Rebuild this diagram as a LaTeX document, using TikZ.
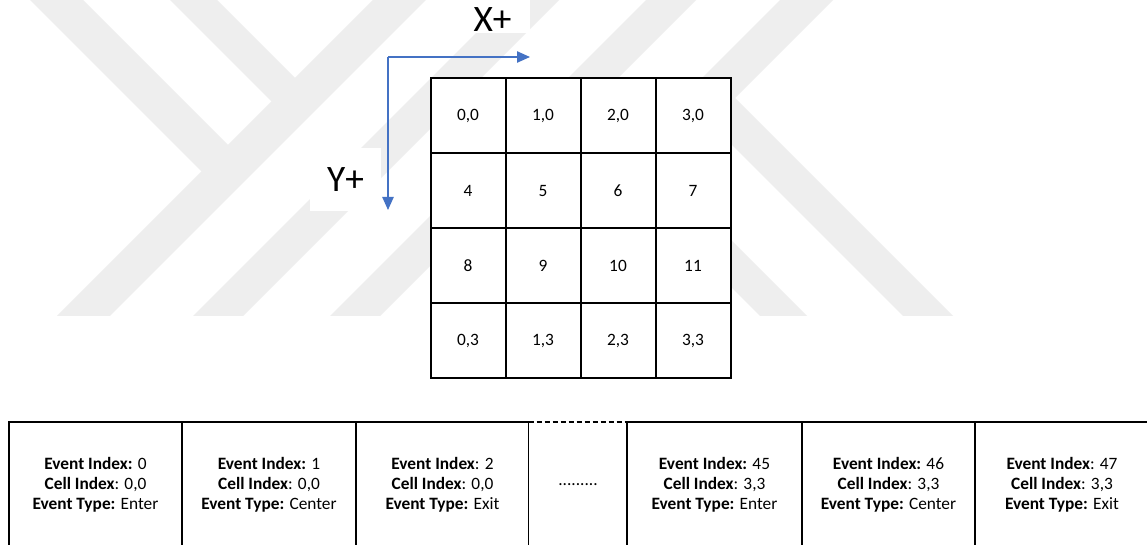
\documentclass[tikz,border=0pt]{standalone}
\usepackage{fontspec}
\setmainfont{Carlito}
\usetikzlibrary{arrows.meta}
\definecolor{axisblue}{HTML}{4472C4}
\definecolor{wmgray}{HTML}{EEEEEE}
\begin{document}
\begin{tikzpicture}[x=0.75pt,y=-0.75pt,
  wm/.style={fill=wmgray,draw=none},
  axis/.style={draw=axisblue,line width=1pt,-{Triangle[length=9.75pt,width=8.5pt]}},
  axislabel/.style={font=\fontsize{28}{32}\selectfont,inner sep=0pt},
  cell/.style={draw,line width=1.5pt,fill=white,minimum size=56.25pt,inner sep=0pt,
    font=\fontsize{13}{16}\selectfont},
  evt/.style={draw,line width=1.5pt,fill=white,minimum height=94.5pt,inner sep=0pt,
    align=center,font=\fontsize{13}{15}\selectfont},
  gap/.style={fill=white,minimum height=94.5pt,inner sep=0pt,
    font=\fontsize{13}{15}\selectfont}]
\useasboundingbox (0,0) rectangle (1147,545);
\clip (0,0) rectangle (1147,545);
\fill[white] (0,0) rectangle (1147,545);

% faint background emblem
\fill[wm] (373,0) -- (426,0) -- (110,316) -- (57,316) -- cycle;
\fill[wm] (30,0) -- (83,0) -- (241.5,158.5) -- (215,185) -- cycle;
\fill[wm] (170,0) -- (217,0) -- (308.5,91.5) -- (285,115) -- cycle;
\fill[wm] (509,0) -- (559,0) -- (243,316) -- (193,316) -- cycle;
\fill[wm] (646,0) -- (696,0) -- (380,316) -- (330,316) -- cycle;
\fill[wm] (557,113) -- (580.5,89.5) -- (807,316) -- (760,316) -- cycle;
\fill[wm] (780,0) -- (833,0) -- (735,98) -- (953,316) -- (903,316) -- (683.5,96.5) -- cycle;

% axis labels
\fill[white] (455,-5) rectangle (530,33);
\node[axislabel] (xlab) at (492.5,20) {X+};
\node[axislabel,fill=white,minimum width=53.25pt,minimum height=47.25pt] (ylab) at (345.5,179.5) {Y+};

% axes
\coordinate (origin) at (388,57);
\coordinate (xend) at (530,57);
\coordinate (yend) at (388,210);
\draw[axis] (origin) -- (xend);
\draw[axis] (origin) -- (yend);

% 4x4 cell grid
\node[cell] (c00) at (468,116) {0,0};
\node[cell] (c10) at (543,116) {1,0};
\node[cell] (c20) at (618,116) {2,0};
\node[cell] (c30) at (693,116) {3,0};
\node[cell] (c01) at (468,191) {4};
\node[cell] (c11) at (543,191) {5};
\node[cell] (c21) at (618,191) {6};
\node[cell] (c31) at (693,191) {7};
\node[cell] (c02) at (468,266) {8};
\node[cell] (c12) at (543,266) {9};
\node[cell] (c22) at (618,266) {10};
\node[cell] (c32) at (693,266) {11};
\node[cell] (c03) at (468,341) {0,3};
\node[cell] (c13) at (543,341) {1,3};
\node[cell] (c23) at (618,341) {2,3};
\node[cell] (c33) at (693,341) {3,3};

% event sequence
\node[evt,minimum width=129.75pt] (e0) at (95.5,485)
  {\textbf{Event Index:} 0\\\textbf{Cell Index}: 0,0\\\textbf{Event Type:} Enter};
\node[evt,minimum width=130.5pt] (e1) at (269,485)
  {\textbf{Event Index:} 1\\\textbf{Cell Index}: 0,0\\\textbf{Event Type:} Center};
\node[evt,minimum width=129.75pt] (e2) at (442.5,485)
  {\textbf{Event Index}: 2\\\textbf{Cell Index}: 0,0\\\textbf{Event Type:} Exit};
\node[gap,minimum width=73.5pt] (skip) at (578,485) {.........};
\node[evt,minimum width=131.25pt] (e45) at (714.5,485)
  {\textbf{Event Index:} 45\\\textbf{Cell Index}: 3,3\\\textbf{Event Type:} Enter};
\node[evt,minimum width=129.75pt] (e46) at (888.5,485)
  {\textbf{Event Index:} 46\\\textbf{Cell Index}: 3,3\\\textbf{Event Type:} Center};
\node[evt,minimum width=130.5pt] (e47) at (1062,485)
  {\textbf{Event Index}: 47\\\textbf{Cell Index}: 3,3\\\textbf{Event Type:} Exit};
\draw[line width=1.5pt,dash pattern=on 4pt off 2pt] (skip.north west) -- (skip.north east);
\end{tikzpicture}
\end{document}
